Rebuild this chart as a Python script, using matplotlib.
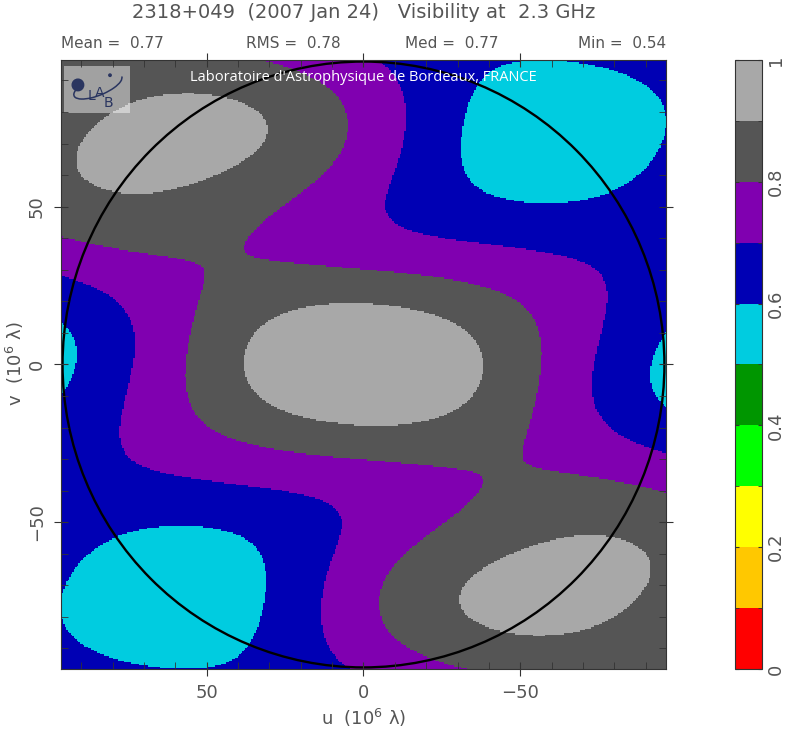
import numpy as np
import matplotlib
matplotlib.use('Agg')
import matplotlib.pyplot as plt
from matplotlib.colors import ListedColormap, BoundaryNorm
from matplotlib.patches import Circle, Rectangle, Arc
from matplotlib.ticker import MultipleLocator

# source model: gaussian components (flux, offset and FWHM in mas)
comp_flux = [0.743, 0.087, 0.146, 0.024]
comp_ra = [0.0, 0.837, 0.796, -1.012]
comp_dec = [0.0, 2.167, -0.772, 2.685]
comp_fwhm = [0.152, 0.493, 0.0, 0.836]

# colour scale of the map
level_edges = [0.0, 0.1, 0.2, 0.3, 0.4, 0.5, 0.6, 0.7, 0.8, 0.9, 1.0]
level_colors = ['#ff0000', '#ffc800', '#ffff00', '#00ff00', '#009600',
                '#00cce0', '#0000b4', '#8000b0', '#555555', '#a8a8a8']
cbar_ticks = [0, 0.2, 0.4, 0.6, 0.8, 1]
cbar_labels = ['0', '0.2', '0.4', '0.6', '0.8', '1']

title = '2318+049  (2007 Jan 24)   Visibility at  2.3 GHz'
stats = [('Mean =  0.77', 0.0, 'left'), ('RMS =  0.78', 0.305, 'left'),
         ('Med =  0.77', 0.568, 'left'), ('Min =  0.54', 1.0, 'right')]

uv_max = 96.5
circle_r = 96
gray = '#555555'
navy = '#2a3560'

# visibility amplitude on the uv grid (u, v in 10^6 lambda)
n = 400
u = np.linspace(-uv_max, uv_max, n)
U, V = np.meshgrid(u, u)
r2 = U**2 + V**2
kg = (np.pi * 4.848e-3)**2 / (4 * np.log(2))
re = np.zeros_like(U)
im = np.zeros_like(U)
for f, x, y, w in zip(comp_flux, comp_ra, comp_dec, comp_fwhm):
    ph = 2 * np.pi * (U * x + V * y) / 206.265
    g = f * np.exp(-kg * w**2 * r2)
    re += g * np.cos(ph)
    im += g * np.sin(ph)
amp = np.sqrt(re**2 + im**2) / sum(comp_flux)

fig = plt.figure(figsize=(7.86, 7.35), dpi=100)
ax = fig.add_axes([0.0776, 0.0898, 0.7697, 0.8286])
cmap = ListedColormap(level_colors)
norm = BoundaryNorm(level_edges, cmap.N)
mesh = ax.pcolormesh(U, V, amp, cmap=cmap, norm=norm, shading='nearest')

ax.add_patch(Circle((0, 0), circle_r, fill=False, color='black', lw=1.7))
ax.set_xlim(uv_max, -uv_max)
ax.set_ylim(-uv_max, uv_max)

ax.set_xticks([-50, 0, 50])
ax.set_yticks([-50, 0, 50])
ax.xaxis.set_minor_locator(MultipleLocator(10))
ax.yaxis.set_minor_locator(MultipleLocator(10))
ax.tick_params(which='major', direction='inout', length=10, top=True, right=True,
               labelsize=13, labelcolor=gray, color='#333333', pad=6)
ax.tick_params(which='minor', direction='in', length=5, top=True, right=True, color='#333333')
for lab in ax.get_yticklabels():
    lab.set_rotation(90)
    lab.set_va('center')
for s in ax.spines.values():
    s.set_color('#333333')

fig.text(364 / 786, 1 - 718 / 735, 'u  (10$^6$ λ)', ha='center', va='center', fontsize=13, color=gray)
fig.text(15 / 786, 1 - 364 / 735, 'v  (10$^6$ λ)', ha='center', va='center', fontsize=13,
         color=gray, rotation=90)

fig.text(0.463, 0.983, title, ha='center', va='center', fontsize=14, color=gray)
for txt, xf, ha in stats:
    fig.text(0.0776 + 0.7697 * xf, 0.941, txt, ha=ha, va='center', fontsize=11, color=gray)

# LAB logo and credit line
ax.add_patch(Rectangle((0.005, 0.913), 0.109, 0.077, transform=ax.transAxes,
                       color='white', alpha=0.45, lw=0))
ax.add_patch(Circle((0.028, 0.959), 0.0095, transform=ax.transAxes, color=navy))
ax.add_patch(Arc((0.061, 0.957), 0.085, 0.03, angle=22, theta1=160, theta2=360,
                 transform=ax.transAxes, color=navy, lw=1.1))
ax.add_patch(Circle((0.081, 0.975), 0.002, transform=ax.transAxes, color=navy))
ax.text(0.050, 0.941, 'L', transform=ax.transAxes, fontsize=10, color=navy, ha='center', va='center')
ax.text(0.064, 0.945, 'A', transform=ax.transAxes, fontsize=10, color=navy, ha='center', va='center')
ax.text(0.078, 0.930, 'B', transform=ax.transAxes, fontsize=10, color=navy, ha='center', va='center')
ax.text(0.5, 0.971, "Laboratoire d'Astrophysique de Bordeaux, FRANCE", transform=ax.transAxes,
        ha='center', va='center', fontsize=10.5, color='white', family='Open Sans')

cax = fig.add_axes([0.935, 0.0898, 0.0344, 0.8286])
cb = fig.colorbar(mesh, cax=cax, ticks=cbar_ticks)
cb.ax.set_yticklabels(cbar_labels, rotation=90, va='center')
cb.ax.yaxis.set_minor_locator(MultipleLocator(0.1))
cb.ax.tick_params(which='both', direction='in', left=True, right=True, length=3,
                  labelsize=13, labelcolor=gray, color='#333333')
cb.outline.set_edgecolor('#333333')

fig.savefig('out.png', dpi=100)
